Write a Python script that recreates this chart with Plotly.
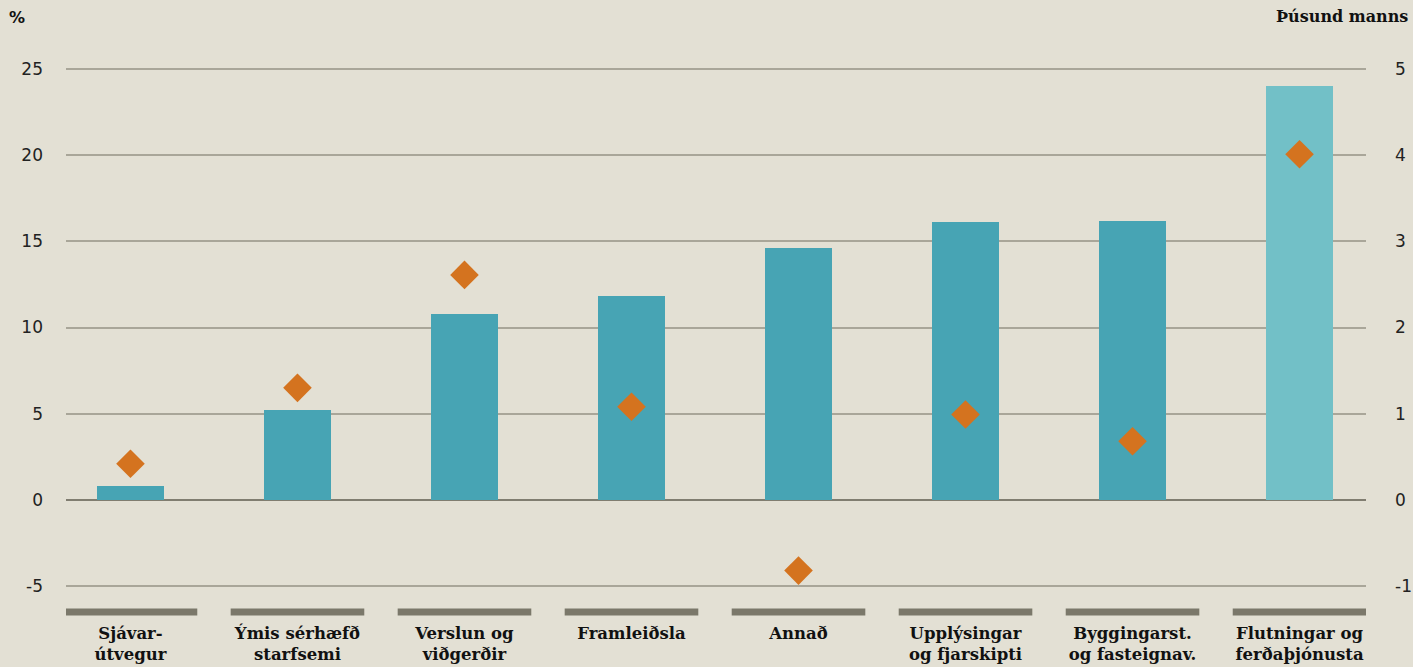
import plotly.graph_objects as go

# gögn
categories = ["Sjávar-<br>útvegur", "Ýmis sérhæfð<br>starfsemi", "Verslun og<br>viðgerðir",
              "Framleiðsla", "Annað", "Upplýsingar<br>og fjarskipti",
              "Byggingarst.<br>og fasteignav.", "Flutningar og<br>ferðaþjónusta"]
pct_change = [0.8, 5.2, 10.8, 11.8, 14.6, 16.1, 16.2, 24.0]       # %, vinstri ás
persons_thous = [0.42, 1.3, 2.61, 1.08, -0.82, 0.99, 0.68, 4.01]  # þúsund manns, hægri ás
left_ticks = [-5, 0, 5, 10, 15, 20, 25]
right_ticks = [-1, 0, 1, 2, 3, 4, 5]

bg = "#e3e0d4"
bar_colors = ["#47a4b4"] * 7 + ["#72c0c7"]
x = list(range(len(categories)))

fig = go.Figure()
fig.add_trace(go.Bar(x=x, y=pct_change, width=0.4, marker=dict(color=bar_colors, line_width=0),
                     showlegend=False))
fig.add_trace(go.Scatter(x=x, y=persons_thous, yaxis="y2", mode="markers",
                         marker=dict(symbol="diamond", size=22, color="#d4731f"),
                         showlegend=False))

# gráar línur undir hverjum flokki
for i in x:
    fig.add_shape(type="rect", xref="x", yref="paper", x0=i - 0.4, x1=i + 0.4,
                  y0=-0.006, y1=0.006, fillcolor="#7b786a", line_width=0)

tick_font = dict(family="DejaVu Sans", size=17, color="#222")
fig.update_layout(
    width=1413, height=667,
    paper_bgcolor=bg, plot_bgcolor=bg,
    margin=dict(l=66, r=47, t=43, b=55),
    bargap=0,
    xaxis=dict(range=[-0.386, 7.398], tickvals=x, ticktext=categories, showgrid=False,
               zeroline=False, ticks="", ticklabelstandoff=9, automargin=False,
               tickfont=dict(family="DejaVu Serif", size=16.5, color="#111", weight="bold")),
    yaxis=dict(range=[-6.5, 26.5], tickvals=left_ticks, ticktext=[str(t) for t in left_ticks],
               showgrid=True, gridcolor="#a9a699", automargin=False,
               gridwidth=2, zeroline=True, zerolinecolor="#807d70", zerolinewidth=2,
               tickfont=tick_font, ticks="", ticklabelstandoff=22),
    yaxis2=dict(range=[-1.3, 5.3], tickvals=right_ticks, ticktext=[str(t) for t in right_ticks],
                overlaying="y", side="right", automargin=False,
                showgrid=False, zeroline=False, tickfont=tick_font, ticks="",
                ticklabelstandoff=28),
    annotations=[
        dict(text="<b>%</b>", xref="paper", yref="paper", x=-0.0377, y=1.044, xanchor="center",
             yanchor="middle", showarrow=False, font=dict(family="DejaVu Sans", size=16, color="#111")),
        dict(text="<b>Þúsund manns</b>", xref="paper", yref="paper", x=1.0338, y=1.0457,
             xanchor="right", yanchor="middle", showarrow=False,
             font=dict(family="DejaVu Serif", size=16, color="#111")),
    ],
)

fig.write_html("out.html", config={"displayModeBar": False},
               post_script="document.body.style.margin='0';")
